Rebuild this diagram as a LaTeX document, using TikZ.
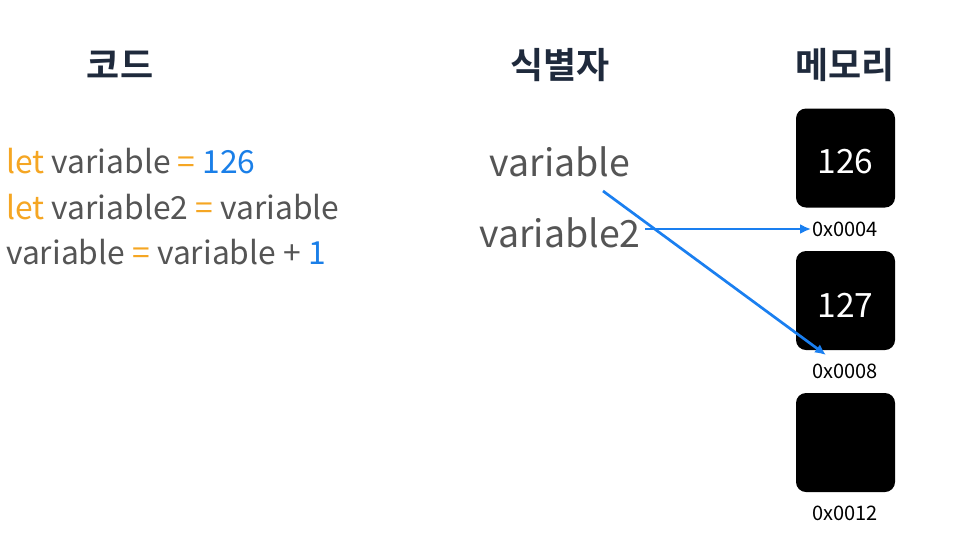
\documentclass[tikz,border=0pt]{standalone}
\usepackage{fontspec}
\setmainfont{Noto Sans CJK KR}
\newfontfamily\krbold{Noto Sans CJK KR Bold}
\usetikzlibrary{arrows.meta}
\definecolor{navy}{HTML}{1F2A3C}
\definecolor{codegray}{HTML}{555555}
\definecolor{kworange}{HTML}{F5A623}
\definecolor{numblue}{HTML}{1A7FE8}
\definecolor{arrowblue}{HTML}{1A7FF0}
\tikzset{
  heading/.style={font=\krbold\fontsize{36}{40}\selectfont, text=navy, inner sep=0pt},
  codeline/.style={font=\fontsize{31.8}{36}\selectfont, text=codegray, anchor=west, inner sep=0pt},
  ident/.style={font=\fontsize{37.5}{42}\selectfont, text=codegray, inner sep=0pt},
  memcell/.style={fill=black, rounded corners=10pt, minimum width=99pt, minimum height=99pt, inner sep=0pt},
  cellval/.style={text=white, font=\fontsize{33.5}{38}\selectfont, inner sep=0pt},
  addr/.style={font=\fontsize{20}{24}\selectfont, text=black, inner sep=1pt},
  ptr/.style={draw=arrowblue, line width=2.7pt, -{Latex[length=11pt,width=10pt]}}
}
\begin{document}
\begin{tikzpicture}[x=1pt,y=-1pt]
\useasboundingbox (0,0) rectangle (953,550);
% headings
\node[heading] (hcode) at (120,65) {코드};
\node[heading] (hid) at (560,65) {식별자};
\node[heading] (hmem) at (845,65) {메모리};
% code
\node[codeline] (c1) at (6,161) {\textcolor{kworange}{let} variable \textcolor{kworange}{=} \textcolor{numblue}{126}};
\node[codeline] (c2) at (6,207) {\textcolor{kworange}{let} variable2 \textcolor{kworange}{=} variable};
\node[codeline] (c3) at (6,252) {variable \textcolor{kworange}{=} variable + \textcolor{numblue}{1}};
% identifiers
\node[ident] (v1) at (560,162) {variable};
\node[ident] (v2) at (560,233) {variable2};
% memory
\node[memcell] (m1) at (845.5,158) {};
\node[memcell] (m2) at (845.5,300.5) {};
\node[memcell] (m3) at (845.5,442.5) {};
\node[cellval] (n1) at (845.5,162) {126};
\node[cellval] (n2) at (845.5,305) {127};
\node[addr] (a1) at (845,229) {0x0004};
\node[addr] (a2) at (845,371) {0x0008};
\node[addr] (a3) at (845,513) {0x0012};
% pointers
\coordinate (s1) at (603,191);
\coordinate (e1) at (826,355);
\coordinate (s2) at (645,229);
\draw[ptr] (s2) -- (a1.west);
\draw[ptr] (s1) -- (e1);
\end{tikzpicture}
\end{document}
